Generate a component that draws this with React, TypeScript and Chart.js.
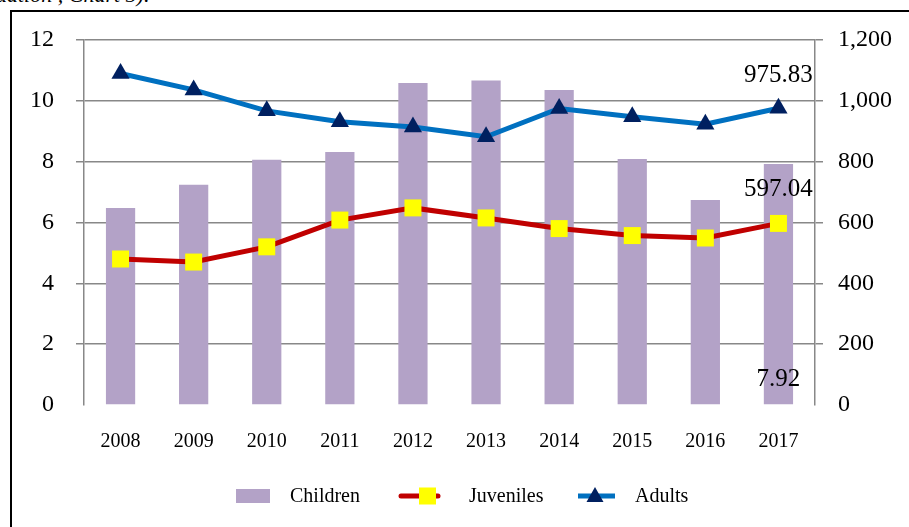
import React, { useEffect, useRef } from "react";
import { Chart, registerables } from "chart.js";

Chart.register(...registerables);

const years = ["2008", "2009", "2010", "2011", "2012", "2013", "2014", "2015", "2016", "2017"];
const children = [6.48, 7.24, 8.06, 8.32, 10.59, 10.67, 10.36, 8.09, 6.74, 7.92];
const juveniles = [480, 470, 520, 608, 648, 615, 580, 557, 549, 597.04];
const adults = [1090, 1036, 967, 931, 914, 882, 975, 948, 923, 975.83];

const FONT = "'Liberation Serif', 'Times New Roman', serif";
const BAR = "#B3A2C7";
const RED = "#C00000";
const YELLOW = "#FFFF00";
const BLUE = "#0070C0";
const NAVY = "#002060";
const GRID = "#888888";

const labelPlugin = {
  id: "valueLabels",
  afterDatasetsDraw(chart: any) {
    const ctx = chart.ctx;
    ctx.save();
    ctx.fillStyle = "#000";
    ctx.font = `25px ${FONT}`;
    ctx.textAlign = "center";
    ctx.textBaseline = "middle";
    const last = years.length - 1;
    const adultsMeta = chart.getDatasetMeta(2);
    const juvMeta = chart.getDatasetMeta(1);
    const barMeta = chart.getDatasetMeta(0);
    const pa = adultsMeta.data[last];
    ctx.fillText(adults[last].toFixed(2), pa.x, pa.y - 33);
    const pj = juvMeta.data[last];
    ctx.fillText(juveniles[last].toFixed(2), pj.x, pj.y - 34);
    const pb = barMeta.data[last];
    const base = chart.scales.y.getPixelForValue(0);
    ctx.fillText(children[last].toFixed(2), pb.x, base - 26);
    ctx.restore();
  },
};

const legendPlugin = {
  id: "customLegend",
  afterDraw(chart: any) {
    const ctx = chart.ctx;
    const y = 496;
    const x0 = 236;
    ctx.save();
    ctx.font = `20px ${FONT}`;
    ctx.fillStyle = "#000";
    ctx.textBaseline = "middle";
    ctx.textAlign = "left";
    // Children
    ctx.fillStyle = BAR;
    ctx.fillRect(x0, y - 7, 34, 14);
    ctx.fillStyle = "#000";
    ctx.fillText("Children", x0 + 54, y + 1);
    // Juveniles
    ctx.strokeStyle = RED;
    ctx.lineWidth = 5;
    ctx.lineCap = "round";
    ctx.beginPath();
    ctx.moveTo(x0 + 165, y);
    ctx.lineTo(x0 + 202, y);
    ctx.stroke();
    ctx.fillStyle = YELLOW;
    ctx.fillRect(x0 + 183, y - 8.5, 17, 17);
    ctx.fillStyle = "#000";
    ctx.fillText("Juveniles", x0 + 233, y + 1);
    // Adults
    ctx.strokeStyle = BLUE;
    ctx.lineCap = "butt";
    ctx.beginPath();
    ctx.moveTo(x0 + 342, y);
    ctx.lineTo(x0 + 379, y);
    ctx.stroke();
    ctx.fillStyle = NAVY;
    const cx = x0 + 359;
    ctx.beginPath();
    ctx.moveTo(cx, y - 9);
    ctx.lineTo(cx + 8.5, y + 6);
    ctx.lineTo(cx - 8.5, y + 6);
    ctx.closePath();
    ctx.fill();
    ctx.fillStyle = "#000";
    ctx.fillText("Adults", x0 + 399, y + 1);
    ctx.restore();
  },
};

export default function App() {
  const ref = useRef<HTMLCanvasElement | null>(null);

  useEffect(() => {
    if (!ref.current) return;
    const gridColor = (c: any) => (c.tick && c.tick.value === 0 ? "rgba(0,0,0,0)" : GRID);
    const chart = new Chart(ref.current, {
      type: "bar",
      data: {
        labels: years,
        datasets: [
          {
            type: "bar",
            label: "Children",
            data: children,
            backgroundColor: BAR,
            borderWidth: 0,
            yAxisID: "y",
            barPercentage: 0.4,
            categoryPercentage: 1,
            order: 3,
          } as any,
          {
            type: "line",
            label: "Juveniles",
            data: juveniles,
            borderColor: RED,
            borderWidth: 5,
            backgroundColor: YELLOW,
            pointStyle: "rect",
            pointRadius: 12,
            pointBorderWidth: 0,
            pointBackgroundColor: YELLOW,
            pointBorderColor: YELLOW,
            tension: 0,
            yAxisID: "y1",
            order: 2,
          },
          {
            type: "line",
            label: "Adults",
            data: adults,
            borderColor: BLUE,
            borderWidth: 5,
            backgroundColor: NAVY,
            pointStyle: "triangle",
            pointRadius: 10.5,
            pointBorderWidth: 0,
            pointBackgroundColor: NAVY,
            pointBorderColor: NAVY,
            tension: 0,
            yAxisID: "y1",
            order: 1,
          },
        ],
      },
      options: {
        responsive: false,
        animation: false,
        devicePixelRatio: 1,
        layout: { padding: { top: 40, bottom: 0, left: 0, right: 0 } },
        plugins: {
          legend: { display: false },
          tooltip: { enabled: false },
          title: { display: false },
        },
        scales: {
          x: {
            offset: true,
            grid: { display: false, drawTicks: false },
            border: { display: false },
            ticks: {
              color: "#000",
              font: { family: FONT, size: 20 },
              padding: 25,
              maxRotation: 0,
            },
            afterFit: (s: any) => {
              s.height = 122;
            },
          },
          y: {
            position: "left",
            min: 0,
            max: 12,
            ticks: {
              stepSize: 2,
              color: "#000",
              font: { family: FONT, size: 24 },
              padding: 22,
            },
            grid: { color: gridColor, lineWidth: 1.5, tickLength: 8 },
            border: { display: true, color: GRID, width: 1.5 },
            afterFit: (s: any) => {
              s.width = 84;
            },
          },
          y1: {
            position: "right",
            min: 0,
            max: 1200,
            ticks: {
              stepSize: 200,
              color: "#000",
              font: { family: FONT, size: 24 },
              padding: 15,
              callback: (v: any) => Number(v).toLocaleString("en-US"),
            },
            grid: { drawOnChartArea: false, color: gridColor, lineWidth: 1.5, tickLength: 8 },
            border: { display: true, color: GRID, width: 1.5 },
            afterFit: (s: any) => {
              s.width = 94;
            },
          },
        },
      },
      plugins: [labelPlugin, legendPlugin],
    });
    return () => chart.destroy();
  }, []);

  return (
    <div
      style={{
        position: "fixed",
        left: 0,
        top: 0,
        width: 909,
        height: 527,
        overflow: "hidden",
        background: "#fff",
      }}
    >
      <div
        style={{
          position: "absolute",
          left: -4,
          top: -16,
          fontFamily: FONT,
          fontStyle: "italic",
          fontSize: 22,
          lineHeight: "22px",
          whiteSpace: "nowrap",
          color: "#000",
        }}
      >
        uation , Chart 5).
      </div>
      <div
        style={{
          position: "absolute",
          left: 10,
          top: 10,
          width: 940,
          height: 560,
          border: "2px solid #000",
          boxSizing: "border-box",
        }}
      />
      <canvas
        ref={ref}
        width={909}
        height={527}
        style={{ position: "absolute", left: 0, top: 0, width: 909, height: 527 }}
      />
    </div>
  );
}
